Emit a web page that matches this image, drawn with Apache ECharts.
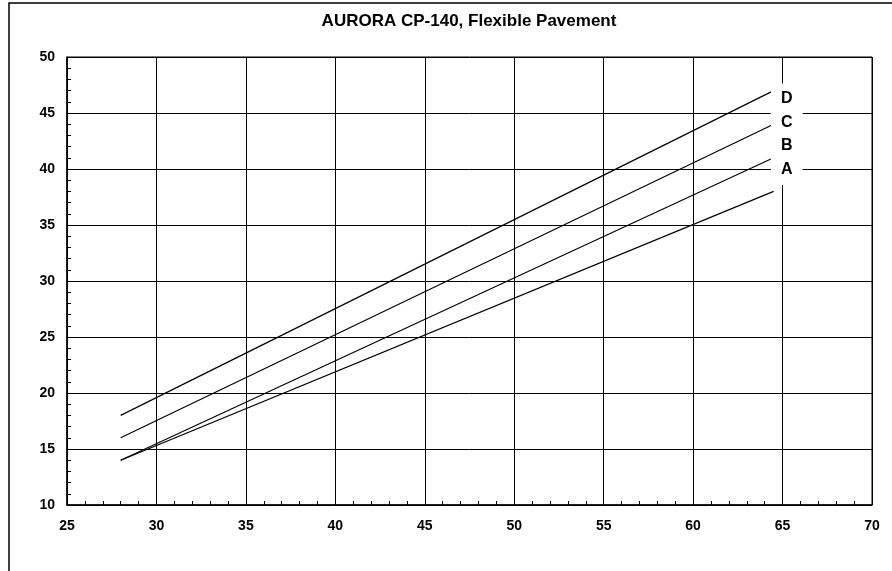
<!DOCTYPE html>
<html>
<head>
<meta charset="utf-8">
<script src="https://cdn.jsdelivr.net/npm/echarts@6/dist/echarts.min.js"></script>
<style>
html,body{margin:0;padding:0;background:#fff;}
#c{width:892px;height:571px;}
</style>
</head>
<body>
<div id="c"></div>
<script>
const titleText = 'AURORA CP-140, Flexible Pavement';
const xValues = [28, 64.5];
const seriesNames = ['A', 'B', 'C', 'D'];
const valuesA = [14, 38];
const valuesB = [14, 41];
const valuesC = [16, 44];
const valuesD = [18, 47];
const labelX = 65.23;
const labelY = [39.95, 42.05, 44.15, 46.25];

const FONT = '"Liberation Sans", Arial, sans-serif';
const allValues = [valuesA, valuesB, valuesC, valuesD];

const chart = echarts.init(document.getElementById('c'), null, {renderer: 'canvas'});

const lineSeries = seriesNames.map((name, i) => ({
  name: name,
  type: 'line',
  symbol: 'none',
  silent: true,
  lineStyle: {color: '#000', width: 1.2},
  data: xValues.map((x, j) => [x, allValues[i][j]]),
  z: 3
}));

chart.setOption({
  animation: false,
  backgroundColor: '#fff',
  title: {
    text: titleText,
    left: 469,
    textAlign: 'center',
    top: 13,
    padding: 0,
    textStyle: {fontFamily: FONT, fontWeight: 'bold', fontSize: 17, color: '#000'}
  },
  grid: {
    left: 67, top: 57, width: 805, height: 448,
    show: true, borderColor: '#000', borderWidth: 1, backgroundColor: 'transparent'
  },
  xAxis: {
    type: 'value', min: 25, max: 70, interval: 5,
    axisLine: {show: true, lineStyle: {color: '#000', width: 1.5}},
    axisTick: {show: true, inside: true, length: 5, lineStyle: {color: '#000'}},
    minorTick: {show: true, splitNumber: 5, length: 4, lineStyle: {color: '#000', width: 1}},
    splitLine: {show: true, lineStyle: {color: '#000', width: 1}},
    axisLabel: {fontFamily: FONT, fontWeight: 'bold', fontSize: 14, color: '#000', margin: 14}
  },
  yAxis: {
    type: 'value', min: 10, max: 50, interval: 5,
    axisLine: {show: true, lineStyle: {color: '#000', width: 1.5}},
    axisTick: {show: true, inside: true, length: 5, lineStyle: {color: '#000'}},
    minorTick: {show: true, splitNumber: 5, length: 4, lineStyle: {color: '#000', width: 1}},
    splitLine: {show: true, lineStyle: {color: '#000', width: 1}},
    axisLabel: {fontFamily: FONT, fontWeight: 'bold', fontSize: 14, color: '#000', margin: 12}
  },
  series: lineSeries
});

// Series name labels placed at data coordinates, with white boxes
const labelEls = seriesNames.map((n, i) => {
  const p = chart.convertToPixel({gridIndex: 0}, [labelX, labelY[i]]);
  return {
    type: 'text',
    x: p[0], y: p[1],
    silent: true,
    z: 50,
    style: {
      text: n,
      fill: '#000',
      font: 'bold 16px ' + FONT,
      align: 'center',
      verticalAlign: 'middle',
      backgroundColor: '#fff',
      padding: [7, 10, 8, 10],
      lineHeight: 16
    }
  };
});

chart.setOption({
  graphic: [{
    type: 'rect',
    shape: {x: 9, y: 3, width: 1200, height: 1200},
    style: {fill: 'none', stroke: '#000', lineWidth: 1.5},
    silent: true,
    z: 100
  }].concat(labelEls)
});
</script>
</body>
</html>
